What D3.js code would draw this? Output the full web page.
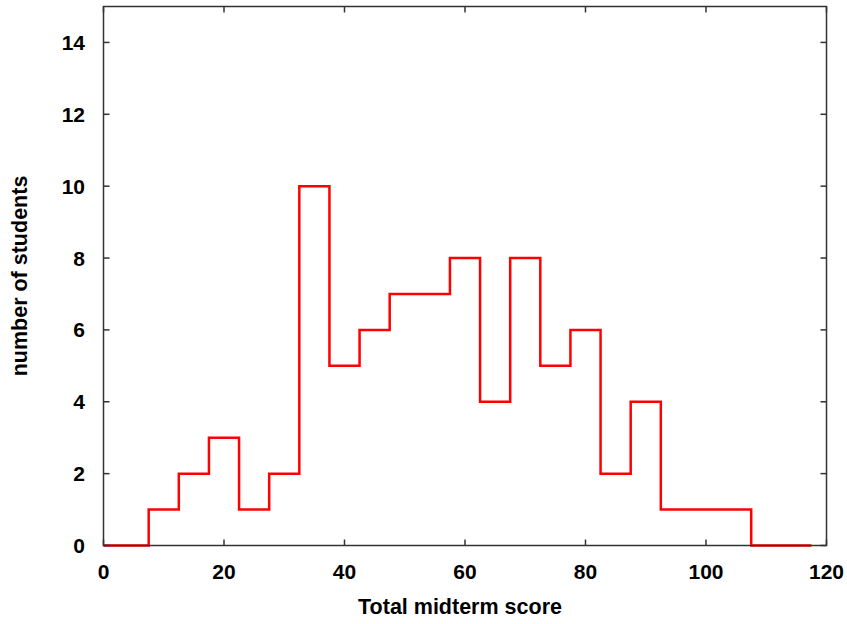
<!DOCTYPE html>
<html>
<head>
<meta charset="UTF-8">
<script src="https://d3js.org/d3.v7.min.js"></script>
<style>
  body { margin: 0; padding: 0; background: #fff; }
  text { font-family: "Liberation Sans", Arial, sans-serif; font-weight: bold; fill: #000; }
</style>
</head>
<body>
<script>
  // bin centres and counts (histeps style)
  const scores = [0, 5, 10, 15, 20, 25, 30, 35, 40, 45, 50, 55, 60, 65, 70, 75, 80, 85, 90, 95, 100, 105, 110, 115]
  const counts = [0, 0, 1, 2, 3, 1, 2, 10, 5, 6, 7, 7, 8, 4, 8, 5, 6, 2, 4, 1, 1, 1, 0, 0]
  const xTicks = [0, 20, 40, 60, 80, 100, 120]
  const yTicks = [0, 2, 4, 6, 8, 10, 12, 14]

  const width = 847, height = 624
  const m = { left: 103.5, right: 20.5, top: 6.5, bottom: 78.5 }

  const svg = d3.select("body").append("svg")
    .attr("width", width)
    .attr("height", height)

  const x = d3.scaleLinear().domain([0, 120]).range([m.left, width - m.right])
  const y = d3.scaleLinear().domain([0, 15]).range([height - m.bottom, m.top])

  const axisColor = "#333"

  // histeps path
  let pts = []
  scores.forEach((s, i) => {
    let x0 = Math.max(0, s - 2.5), x1 = s + 2.5
    pts.push([x0, counts[i]], [x1, counts[i]])
  })
  svg.append("path")
    .attr("d", d3.line().x(d => x(d[0])).y(d => y(d[1]))(pts))
    .attr("fill", "none")
    .attr("stroke", "#ff0000")
    .attr("stroke-width", 2.5)
    .attr("stroke-linejoin", "miter")

  // frame
  svg.append("rect")
    .attr("x", x(0)).attr("y", y(15))
    .attr("width", x(120) - x(0)).attr("height", y(0) - y(15))
    .attr("fill", "none").attr("stroke", axisColor).attr("stroke-width", 1.5)

  // ticks, mirrored inside
  const tl = 6
  svg.append("g").selectAll("line").data(yTicks).join("line")
    .attr("x1", x(0)).attr("x2", x(0) + tl)
    .attr("y1", d => y(d)).attr("y2", d => y(d))
    .attr("stroke", axisColor).attr("stroke-width", 1.5)
  svg.append("g").selectAll("line").data(yTicks).join("line")
    .attr("x1", x(120)).attr("x2", x(120) - tl)
    .attr("y1", d => y(d)).attr("y2", d => y(d))
    .attr("stroke", axisColor).attr("stroke-width", 1.5)
  svg.append("g").selectAll("line").data(xTicks).join("line")
    .attr("x1", d => x(d)).attr("x2", d => x(d))
    .attr("y1", y(0)).attr("y2", y(0) - tl)
    .attr("stroke", axisColor).attr("stroke-width", 1.5)
  svg.append("g").selectAll("line").data(xTicks).join("line")
    .attr("x1", d => x(d)).attr("x2", d => x(d))
    .attr("y1", y(15)).attr("y2", y(15) + tl)
    .attr("stroke", axisColor).attr("stroke-width", 1.5)

  // tick labels
  svg.append("g").selectAll("text").data(yTicks).join("text")
    .attr("x", 85).attr("y", d => y(d))
    .attr("text-anchor", "end")
    .attr("dominant-baseline", "central")
    .style("font-size", "21px")
    .text(d => d)
  svg.append("g").selectAll("text").data(xTicks).join("text")
    .attr("x", d => x(d)).attr("y", 571)
    .attr("text-anchor", "middle")
    .attr("dominant-baseline", "central")
    .style("font-size", "21px")
    .text(d => d)

  // axis titles
  svg.append("text")
    .attr("x", 460).attr("y", 607)
    .attr("text-anchor", "middle")
    .attr("dominant-baseline", "central")
    .style("font-size", "21.5px")
    .text("Total midterm score")
  svg.append("text")
    .attr("transform", `translate(20, ${y(7.5)}) rotate(-90)`)
    .attr("text-anchor", "middle")
    .attr("dominant-baseline", "central")
    .style("font-size", "21.5px")
    .text("number of students")
</script>
</body>
</html>
